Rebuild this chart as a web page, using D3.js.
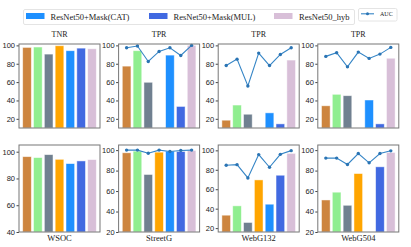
<!DOCTYPE html>
<html>
<head>
<meta charset="utf-8">
<script src="https://cdn.jsdelivr.net/npm/d3@7"></script>
<style>
  body { margin: 0; background: #fff; }
  svg { display: block; font-family: "Liberation Serif", "DejaVu Serif", serif; }
  .tick text { font-size: 7.5px; fill: #222; }
</style>
</head>
<body>
<div id="chart"></div>
<script>
// series (bar order inside every panel)
const seriesNames = ["ResNet50", "ResNet50+Attn", "ResNet50+Edge", "ResNet50+Mask", "ResNet50+Mask(CAT)", "ResNet50+Mask(MUL)", "ResNet50_hyb"];
const seriesColors = ["#cd853f", "#90ee90", "#708090", "#ffa500", "#1e90ff", "#4169e1", "#d8bfd8"];
const legendSeries = [4, 5, 6];

const datasets = ["WSOC", "StreetG", "WebG132", "WebG504"];
const topTitles = ["TNR", "TPR", "TPR", "TPR"];

// top row bars (TNR / TPR)
const topWSOC = [97.8, 98.2, 90.5, 99.6, 94.2, 97.0, 96.3];
const topStreetG = [77.4, 94.2, 59.8, null, 89.4, 33.5, 100];
const topWebG132 = [18.5, 35.0, 25.0, null, 26.5, 14.5, 84.0];
const topWebG504 = [34.2, 46.7, 45.2, null, 40.5, 14.5, 86.0];
// top row AUC lines
const topAucStreetG = [97.4, 99.3, 82.5, 93.4, 97.4, 89.0, 100];
const topAucWebG132 = [78.0, 85.0, 55.8, 91.6, 78.0, 90.1, 97.4];
const topAucWebG504 = [88.0, 92.0, 76.6, 92.7, 85.8, 90.5, 97.8];

// bottom row bars
const botWSOC = [96.3, 95.6, 97.8, 94.3, 91.1, 93.1, 94.1];
const botStreetG = [97.4, 99.0, 76.2, 98.0, 99.0, 98.7, 99.7];
const botWebG132 = [33.3, 42.9, 25.8, 69.6, 44.6, 74.4, 96.9];
const botWebG504 = [51.3, 58.9, 46.1, 77.1, null, 83.7, 97.7];
// bottom row AUC lines
const botAucStreetG = [100, 100, 97.0, 100, 98.7, 99.7, 100];
const botAucWebG132 = [84.6, 85.3, 71.6, 95.6, 82.6, 95.9, 99.7];
const botAucWebG504 = [92.2, 92.2, 86.0, 96.7, 87.6, 96.7, 99.3];

const topTicks = [20, 40, 60, 80, 100];
const botTicks = [[40, 60, 80, 100], [20, 40, 60, 80, 100], [20, 40, 60, 80, 100], [20, 40, 60, 80, 100]];

const topBars = [topWSOC, topStreetG, topWebG132, topWebG504];
const topLines = [null, topAucStreetG, topAucWebG132, topAucWebG504];
const botBars = [botWSOC, botStreetG, botWebG132, botWebG504];
const botLines = [null, botAucStreetG, botAucWebG132, botAucWebG504];
const botDomains = [[40, 105], [20, 105], [16, 105.5], [20, 105]];

const width = 411, height = 247;
const panelW = 81, colStep = 99.6, left0 = 19;
const rows = [{ top: 44, bottom: 128 }, { top: 145, bottom: 232 }];
const lineColor = "#3585c6";

const svg = d3.select("#chart").append("svg")
  .attr("width", width)
  .attr("height", height);

function panel(col, row, bars, line, domain, ticks) {
  const x0 = left0 + col * colStep;
  const g = svg.append("g").attr("transform", "translate(" + x0 + "," + rows[row].top + ")");
  const h = rows[row].bottom - rows[row].top;

  const xScale = d3.scaleLinear().domain([-0.74, 6.74]).range([0, panelW]);
  const yScale = d3.scaleLinear().domain(domain).range([h, 0]);
  const bw = xScale(0.8) - xScale(0);

  g.selectAll("rect.bar")
    .data(bars.map((v, i) => ({ v, i })).filter(d => d.v !== null))
    .join("rect")
    .attr("class", "bar")
    .attr("x", d => xScale(d.i) - bw / 2)
    .attr("width", bw)
    .attr("y", d => yScale(d.v))
    .attr("height", d => h - yScale(d.v))
    .attr("fill", d => seriesColors[d.i])
    .attr("stroke", "#fff")
    .attr("stroke-opacity", 0.6)
    .attr("stroke-width", 0.8);

  if (line) {
    const pts = line.map((v, i) => [xScale(i), yScale(v)]);
    g.append("path")
      .attr("d", d3.line()(pts))
      .attr("fill", "none")
      .attr("stroke", lineColor)
      .attr("stroke-width", 1.1);
    g.selectAll("circle")
      .data(pts)
      .join("circle")
      .attr("cx", d => d[0])
      .attr("cy", d => d[1])
      .attr("r", 1.7)
      .attr("fill", "#2a74b4");
  }

  // y axis
  const yAxis = g.append("g")
    .call(d3.axisLeft(yScale).tickValues(ticks).tickSize(2.5).tickPadding(1.5));
  yAxis.select(".domain").remove();
  yAxis.selectAll(".tick line").attr("stroke", "#444");

  // frame
  g.append("rect")
    .attr("width", panelW)
    .attr("height", h)
    .attr("fill", "none")
    .attr("stroke", "#777")
    .attr("stroke-width", 1);

  return { g, h };
}

datasets.forEach((name, c) => {
  const t = panel(c, 0, topBars[c], topLines[c], [10, 101.5], topTicks);
  t.g.append("text")
    .attr("x", panelW / 2)
    .attr("y", -7)
    .attr("text-anchor", "middle")
    .attr("font-size", 8)
    .attr("fill", "#222")
    .text(topTitles[c]);

  const b = panel(c, 1, botBars[c], botLines[c], botDomains[c], botTicks[c]);
  b.g.append("text")
    .attr("x", panelW / 2)
    .attr("y", b.h + 8.5)
    .attr("text-anchor", "middle")
    .attr("font-size", 8.5)
    .attr("fill", "#222")
    .text(name);
});

// bar legend
const leg = svg.append("g");
leg.append("rect")
  .attr("x", 23.5).attr("y", 9.5)
  .attr("width", 331).attr("height", 15)
  .attr("rx", 1.5)
  .attr("fill", "#fff")
  .attr("stroke", "#ddd")
  .attr("stroke-width", 0.8);
const legX = [26, 149, 274];
const legTextX = [50.5, 173.5, 299];
legendSeries.forEach((s, k) => {
  leg.append("rect")
    .attr("x", legX[k]).attr("y", 13)
    .attr("width", 18.5).attr("height", 6)
    .attr("fill", seriesColors[s]);
  leg.append("text")
    .attr("x", legTextX[k]).attr("y", 19.5)
    .attr("font-size", 8.5)
    .attr("fill", "#222")
    .text(seriesNames[s]);
});

// AUC legend
const aleg = svg.append("g");
aleg.append("rect")
  .attr("x", 358.5).attr("y", 8.5)
  .attr("width", 38.5).attr("height", 12.5)
  .attr("rx", 1.5)
  .attr("fill", "#fff")
  .attr("stroke", "#ddd")
  .attr("stroke-width", 0.8);
aleg.append("line")
  .attr("x1", 361).attr("x2", 374)
  .attr("y1", 13.8).attr("y2", 13.8)
  .attr("stroke", lineColor)
  .attr("stroke-width", 1.1);
aleg.append("circle")
  .attr("cx", 367.5).attr("cy", 13.8).attr("r", 1.5)
  .attr("fill", "#2a74b4");
aleg.append("text")
  .attr("x", 380).attr("y", 16)
  .attr("font-size", 6)
  .attr("fill", "#222")
  .text("AUC");
</script>
</body>
</html>
